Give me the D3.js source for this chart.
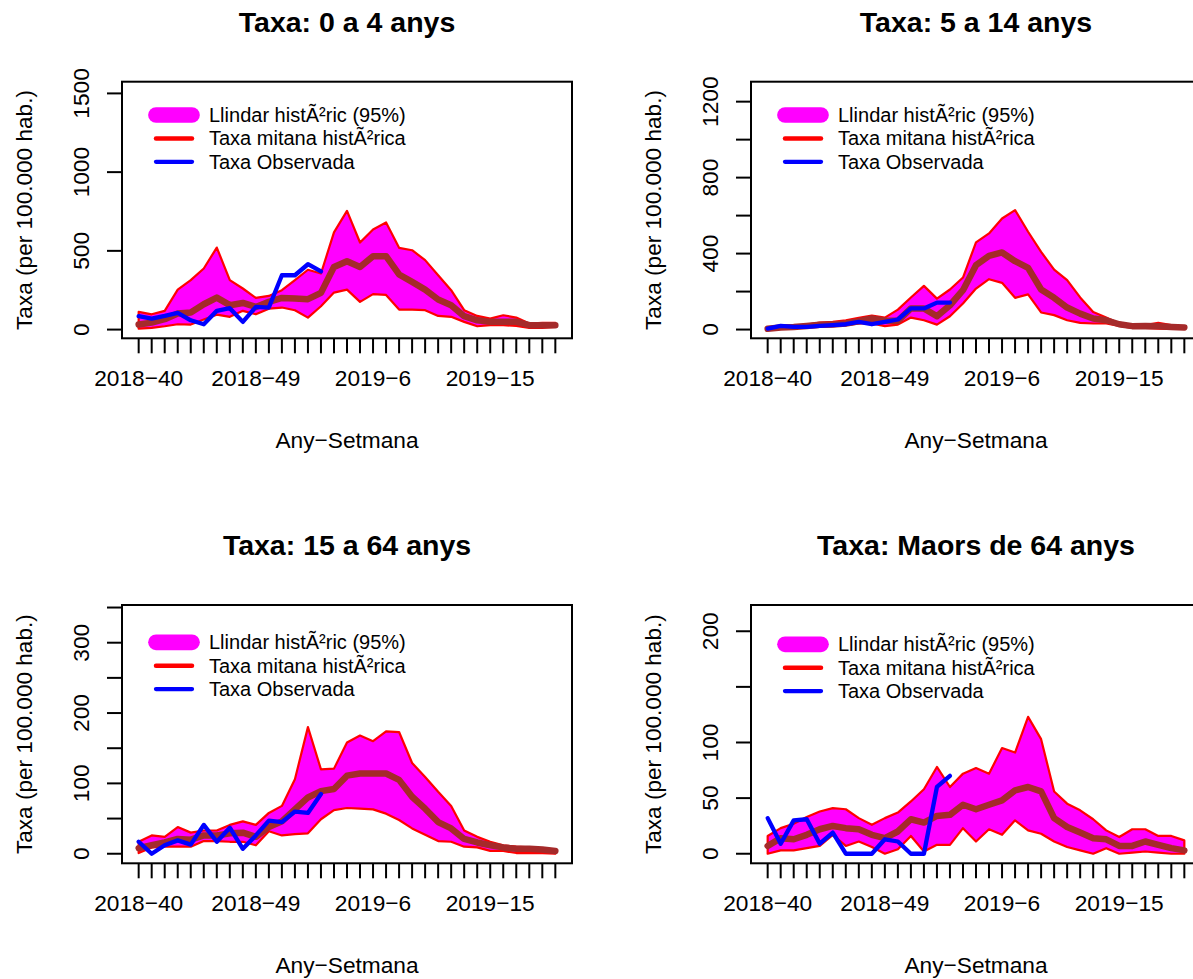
<!DOCTYPE html>
<html>
<head>
<meta charset="utf-8">
<script src="https://cdn.jsdelivr.net/npm/d3@7/dist/d3.min.js"></script>
<style>
    body { margin: 0; background: #ffffff; }
    text { font-family: "Liberation Sans", Arial, sans-serif; fill: #000; }
</style>
</head>
<body>
<div id="chart"></div>
<script>
'use strict';

// Weeks (x tick labels)
const weeks = [
    '2018-40', '2018-41', '2018-42', '2018-43', '2018-44', '2018-45', '2018-46', '2018-47',
    '2018-48', '2018-49', '2018-50', '2018-51', '2018-52', '2019-1', '2019-2', '2019-3',
    '2019-4', '2019-5', '2019-6', '2019-7', '2019-8', '2019-9', '2019-10', '2019-11',
    '2019-12', '2019-13', '2019-14', '2019-15', '2019-16', '2019-17', '2019-18', '2019-19',
    '2019-20'
];

const titles = ['Taxa: 0 a 4 anys', 'Taxa: 5 a 14 anys', 'Taxa: 15 a 64 anys', 'Taxa: Maors de 64 anys'];
const legendLabels = ['Llindar histÃ²ric (95%)', 'Taxa mitana histÃ²rica', 'Taxa Observada'];

// 0 a 4 anys
const upper04 = [112, 97, 119, 254, 314, 388, 521, 314, 261, 201, 214, 250, 314, 380, 356, 617, 754,
    553, 636, 680, 519, 504, 441, 345, 250, 123, 87, 70, 91, 76, 38, 42, 42];
const lower04 = [6, 11, 21, 34, 32, 64, 95, 81, 119, 97, 133, 140, 123, 76, 148, 235, 254,
    176, 225, 220, 127, 127, 123, 87, 81, 49, 21, 28, 28, 23, 11, 11, 17];
const mean04 = [32, 44, 66, 102, 108, 161, 203, 155, 169, 144, 176, 201, 197, 193, 233, 398, 434,
    398, 466, 466, 350, 303, 254, 191, 155, 85, 59, 49, 49, 49, 28, 28, 28];
const obs04 = [85, 70, 87, 106, 59, 34, 119, 136, 49, 144, 140, 345, 345, 415, 369];

// 5 a 14 anys
const upper514 = [5, 14, 19, 26, 37, 40, 49, 62, 74, 63, 105, 169, 230, 163, 211, 274, 459,
    506, 585, 629, 515, 409, 316, 260, 169, 93, 63, 32, 18, 23, 35, 23, 14];
const lower514 = [0, 4, 7, 11, 14, 18, 23, 32, 32, 18, 26, 63, 49, 26, 70, 137, 216,
    265, 246, 167, 185, 90, 76, 49, 35, 32, 32, 19, 9, 9, 5, 4, 4];
const mean514 = [4, 11, 14, 19, 25, 26, 32, 44, 58, 46, 46, 111, 111, 70, 128, 207, 339,
    388, 406, 360, 325, 211, 167, 116, 84, 58, 49, 28, 18, 19, 18, 14, 11];
const obs514 = [5, 19, 14, 14, 19, 23, 28, 40, 28, 40, 53, 111, 111, 142, 142];

// 15 a 64 anys
const upper1564 = [17, 26, 24, 38, 30, 33, 33, 41, 46, 41, 58, 68, 106, 180, 120, 121, 158,
    168, 160, 174, 173, 129, 109, 88, 68, 33, 24, 17, 12, 10, 9, 7, 6];
const lower1564 = [1, 9, 10, 10, 10, 18, 18, 17, 17, 12, 32, 26, 28, 29, 49, 62, 65,
    64, 63, 57, 48, 36, 27, 18, 17, 10, 9, 4, 4, 1, 1, 1, 0];
const mean1564 = [8, 12, 16, 21, 20, 26, 26, 29, 30, 24, 38, 46, 63, 80, 89, 92, 111,
    114, 114, 114, 105, 81, 64, 45, 36, 21, 16, 12, 9, 7, 7, 6, 4];
const obs1564 = [17, 0, 12, 19, 13, 41, 17, 37, 7, 26, 47, 45, 60, 58, 85];

// Majors de 64 anys
const upper64 = [16, 23, 27, 33, 38, 41, 40, 32, 26, 32, 37, 47, 58, 78, 60, 72, 77,
    72, 95, 91, 123, 103, 56, 45, 39, 31, 21, 15, 22, 22, 16, 16, 12];
const lower64 = [0, 3, 3, 5, 7, 17, 7, 11, 6, 0, 4, 16, 2, 8, 8, 23, 11,
    22, 17, 30, 21, 18, 11, 6, 3, 0, 5, 0, 1, 2, 1, 0, 0];
const mean64 = [7, 14, 13, 17, 22, 25, 23, 22, 17, 14, 20, 31, 28, 34, 35, 44, 40,
    44, 48, 57, 60, 56, 32, 24, 19, 14, 13, 7, 7, 11, 8, 5, 3];
const obs64 = [32, 9, 30, 31, 9, 19, 0, 0, 0, 13, 11, 0, 0, 60, 70];

// Y axis ticks and the labels R kept
const yTicks = [
    [0, 500, 1000, 1500],
    [0, 200, 400, 600, 800, 1000, 1200],
    [0, 50, 100, 150, 200, 250, 300, 350],
    [0, 50, 100, 150, 200]
];
const yTickLabels = [
    [0, 500, 1000, 1500],
    [0, 400, 800, 1200],
    [0, 100, 200, 300],
    [0, 50, 100, 200]
];
const yLimits = [[5, 1514], [4, 1255], [0, 340], [0, 215]];

class Panel {

    constructor(_data, _ref, _i) {
        this.data = _data;
        this.parent = _ref;
        this.i = _i;

        this.initVis();
    }

    initVis() {
        // Get this vis
        const vis = this;

        // Config (plot region in px)
        const col = vis.i % 2;
        const row = Math.floor(vis.i / 2);
        vis.left = 122 + col * 629;
        vis.top = row === 0 ? 81.7 : 605;
        vis.w = 450;
        vis.h = row === 0 ? 256.6 : 258.3;

        vis.g = vis.parent.append('g')
            .attr('transform', `translate(${vis.left},${vis.top})`);

        // Scales, R style 4% padding
        const n = weeks.length - 1;
        vis.xScale = d3.scaleLinear()
            .domain([-0.04 * n, n * 1.04])
            .range([0, vis.w]);

        const [a, b] = vis.data.ylim;
        const pad = 0.04 * (b - a);
        vis.yScale = d3.scaleLinear()
            .domain([a - pad, b + pad])
            .range([vis.h, 0]);

        vis.updateVis();
    }

    updateVis() {
        // Get this vis
        const vis = this;
        const d = vis.data;

        // Threshold band
        const area = d3.area()
            .x((v, i) => vis.xScale(i))
            .y0((v, i) => vis.yScale(d.lower[i]))
            .y1(v => vis.yScale(v));
        vis.g.append('path')
            .attr('d', area(d.upper))
            .attr('fill', '#ff00ff')
            .attr('stroke', '#ff0000')
            .attr('stroke-width', 2.2)
            .attr('stroke-linejoin', 'round');

        const line = d3.line()
            .x((v, i) => vis.xScale(i))
            .y(v => vis.yScale(v));

        // Historic mean
        vis.g.append('path')
            .attr('d', line(d.mean))
            .attr('fill', 'none')
            .attr('stroke', '#a52a2a')
            .attr('stroke-width', 6.5)
            .attr('stroke-linejoin', 'round')
            .attr('stroke-linecap', 'round');

        // Observed
        vis.g.append('path')
            .attr('d', line(d.obs))
            .attr('fill', 'none')
            .attr('stroke', '#0000ff')
            .attr('stroke-width', 4.3)
            .attr('stroke-linejoin', 'round')
            .attr('stroke-linecap', 'round');

        // Box
        vis.g.append('rect')
            .attr('width', vis.w)
            .attr('height', vis.h)
            .attr('fill', 'none')
            .attr('stroke', '#000')
            .attr('stroke-width', 2);

        // X axis
        const xAxis = vis.g.append('g')
            .attr('transform', `translate(0,${vis.h})`);
        xAxis.selectAll('line')
            .data(weeks)
            .join('line')
            .attr('x1', (w, i) => vis.xScale(i))
            .attr('x2', (w, i) => vis.xScale(i))
            .attr('y1', 0)
            .attr('y2', 15)
            .attr('stroke', '#000')
            .attr('stroke-width', 2);
        xAxis.selectAll('text')
            .data(weeks.filter((w, i) => i % 9 === 0))
            .join('text')
            .attr('x', w => vis.xScale(weeks.indexOf(w)))
            .attr('y', 48)
            .attr('text-anchor', 'middle')
            .style('font-size', '22.7px')
            .text(w => w.replace('-', '\u2212'));
        xAxis.append('text')
            .attr('x', vis.w / 2)
            .attr('y', 110)
            .attr('text-anchor', 'middle')
            .style('font-size', '22.7px')
            .text('Any\u2212Setmana');

        // Y axis
        const yAxis = vis.g.append('g');
        yAxis.selectAll('line')
            .data(d.yTicks)
            .join('line')
            .attr('x1', 0)
            .attr('x2', -15)
            .attr('y1', v => vis.yScale(v))
            .attr('y2', v => vis.yScale(v))
            .attr('stroke', '#000')
            .attr('stroke-width', 2);
        yAxis.selectAll('text')
            .data(d.yTickLabels)
            .join('text')
            .attr('transform', v => `translate(-33,${vis.yScale(v)}) rotate(-90)`)
            .attr('text-anchor', 'middle')
            .style('font-size', '22.7px')
            .text(v => v);
        yAxis.append('text')
            .attr('transform', `translate(-90,${vis.h / 2}) rotate(-90)`)
            .attr('text-anchor', 'middle')
            .style('font-size', '22.6px')
            .text('Taxa (per 100.000 hab.)');

        // Title
        vis.g.append('text')
            .attr('x', vis.w / 2)
            .attr('y', -50)
            .attr('text-anchor', 'middle')
            .style('font-size', '28.5px')
            .style('font-weight', 'bold')
            .text(d.title);

        // Legend
        const legend = vis.g.append('g')
            .attr('transform', `translate(0,${d.legendY})`);
        const swatches = [
            {col: '#ff00ff', lw: 15.7},
            {col: '#ff0000', lw: 4.5},
            {col: '#0000ff', lw: 4.3}
        ];
        legendLabels.forEach((lab, k) => {
            const yy = k * 23.4;
            legend.append('line')
                .attr('x1', 34).attr('x2', 70)
                .attr('y1', yy).attr('y2', yy)
                .attr('stroke', swatches[k].col)
                .attr('stroke-width', swatches[k].lw)
                .attr('stroke-linecap', 'round');
            legend.append('text')
                .attr('x', 87)
                .attr('y', yy + 7)
                .style('font-size', '20px')
                .text(lab);
        });
    }
}

// Build svg
const svg = d3.select('#chart')
    .append('svg')
    .attr('width', 1193)
    .attr('height', 979);

const panels = [
    {title: titles[0], upper: upper04, lower: lower04, mean: mean04, obs: obs04, legendY: 33.3},
    {title: titles[1], upper: upper514, lower: lower514, mean: mean514, obs: obs514, legendY: 33.3},
    {title: titles[2], upper: upper1564, lower: lower1564, mean: mean1564, obs: obs1564, legendY: 37.3},
    {title: titles[3], upper: upper64, lower: lower64, mean: mean64, obs: obs64, legendY: 39.3}
];

panels.forEach((p, i) => {
    p.ylim = yLimits[i];
    p.yTicks = yTicks[i];
    p.yTickLabels = yTickLabels[i];
    new Panel(p, svg, i);
});
</script>
</body>
</html>
